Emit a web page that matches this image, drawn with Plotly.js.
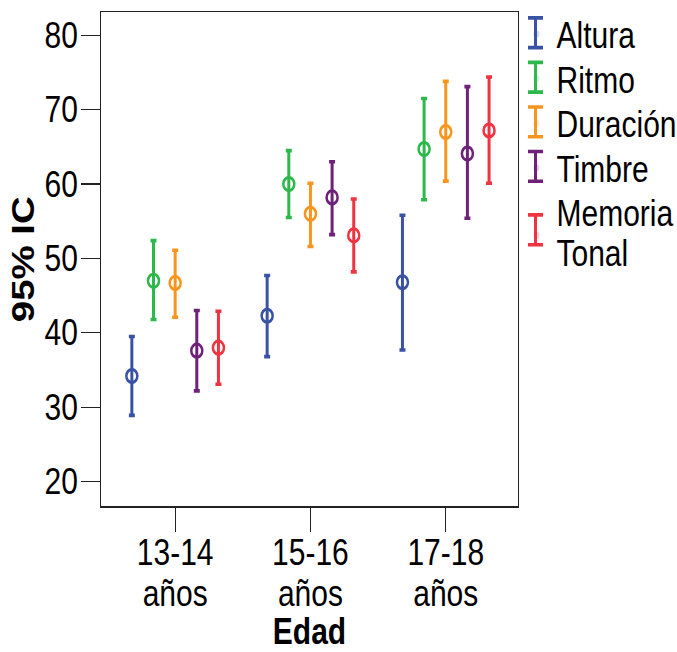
<!DOCTYPE html>
<html>
<head>
<meta charset="utf-8">
<script src="https://cdn.plot.ly/plotly-3.0.1.min.js"></script>
<style>
html,body{margin:0;padding:0;background:#fff;overflow:hidden;}
#wrap{width:677px;height:652px;overflow:hidden;}
#chart{width:677px;height:543px;transform:scaleY(1.2);transform-origin:0 0;}
</style>
</head>
<body>
<div id="wrap"><div id="chart"></div></div>
<script>
// ---- data ----
const categories = ['13-14<br>años', '15-16<br>años', '17-18<br>años'];
const seriesNames = ['Altura', 'Ritmo', 'Duración', 'Timbre', 'Memoria<br>Tonal'];
const yTickValues = [20, 30, 40, 50, 60, 70, 80];

const alturaMean = [34.2, 42.3, 46.8];
const alturaLow  = [28.9, 36.8, 37.7];
const alturaHigh = [39.5, 47.7, 55.8];

const ritmoMean = [47.0, 60.0, 64.7];
const ritmoLow  = [41.8, 55.5, 57.9];
const ritmoHigh = [52.4, 64.5, 71.5];

const duracionMean = [46.7, 56.0, 67.0];
const duracionLow  = [42.1, 51.6, 60.4];
const duracionHigh = [51.1, 60.1, 73.8];

const timbreMean = [37.6, 58.2, 64.1];
const timbreLow  = [32.2, 53.2, 55.4];
const timbreHigh = [43.0, 63.0, 73.1];

const memoriaMean = [38.0, 53.1, 67.2];
const memoriaLow  = [33.1, 48.2, 60.1];
const memoriaHigh = [42.9, 58.0, 74.4];

// ---- style ----
const colors = ['#3953a4', '#2db84b', '#f7951e', '#6e2178', '#ef3340'];
const FONT = 'Liberation Sans, Arial, sans-serif';
const FIG_H = 543;            // pre-stretch height (figure is stretched 1.2x vertically)
const M = {l: 101, r: 159, t: 10, b: 121, autoexpand: false};
const plotW = 677 - M.l - M.r;
const plotH = FIG_H - M.t - M.b;
const px2x = p => (p - M.l) / plotW;
const px2y = p => (FIG_H - M.b - p) / plotH;
const LINE_EM = 1.12;         // line spacing of two-line labels

const means = [alturaMean, ritmoMean, duracionMean, timbreMean, memoriaMean];
const lows  = [alturaLow, ritmoLow, duracionLow, timbreLow, memoriaLow];
const highs = [alturaHigh, ritmoHigh, duracionHigh, timbreHigh, memoriaHigh];

const traces = [];
seriesNames.forEach((name, i) => {
  traces.push({
    type: 'scatter', mode: 'markers', name: name, showlegend: false,
    x: categories, y: means[i],
    marker: {symbol: 'circle-open', size: 11, color: colors[i], line: {width: 2.5, color: colors[i]}},
    error_y: {
      type: 'data', symmetric: false,
      array: highs[i].map((h, k) => h - means[i][k]),
      arrayminus: lows[i].map((l, k) => means[i][k] - l),
      color: colors[i], thickness: 3, width: 3
    }
  });
});
// legend entries (keys drawn as I-beam shapes)
seriesNames.forEach((name, i) => {
  traces.push({
    type: 'scatter', mode: 'markers', name: name, showlegend: true,
    legend: i === 0 ? 'legend' : 'legend' + (i + 1),
    x: [null], y: [null], xaxis: 'x2', yaxis: 'y2',
    marker: {color: colors[i], opacity: 0}
  });
});

// legend key geometry (pre-stretch pixels)
const keyCenters = [27.3, 64.4, 101.6, 138.6, 191.5];
const keyHalf = 12.4, keyX = 535.5, keyCap = 7.5;
const shapes = keyCenters.map((c, i) => {
  const x0 = px2x(keyX - keyCap), x1 = px2x(keyX + keyCap), xc = px2x(keyX);
  const y0 = px2y(c - keyHalf), y1 = px2y(c + keyHalf);
  return {
    type: 'path', xref: 'paper', yref: 'paper',
    path: `M${x0},${y0} L${x1},${y0} M${xc},${y0} L${xc},${y1} M${x0},${y1} L${x1},${y1}`,
    line: {color: colors[i], width: 3}
  };
});

const legendBase = {
  x: px2x(516.5), xanchor: 'left', yanchor: 'middle',
  bgcolor: 'rgba(0,0,0,0)', borderwidth: 0,
  font: {family: FONT, size: 30, color: '#000'}
};
const textCenters = [28.5, 65.5, 102.7, 139.7, 196.0];
const layout = {
  width: 677, height: FIG_H,
  margin: M,
  paper_bgcolor: '#fff', plot_bgcolor: '#fff',
  font: {family: FONT, color: '#000'},
  scattermode: 'group', scattergap: 0.2,
  xaxis: {
    type: 'category', categoryorder: 'array', categoryarray: categories,
    range: [-0.548, 2.534],
    showline: true, mirror: true, linecolor: '#222', linewidth: 1,
    ticks: 'outside', ticklen: 20, tickwidth: 1, tickcolor: '#222',
    ticklabelstandoff: -8,
    tickfont: {family: FONT, size: 30, color: '#000'},
    showgrid: false, zeroline: false,
    title: {text: '<b>Edad</b>', font: {family: FONT, size: 30, color: '#000'}, standoff: 6}
  },
  yaxis: {
    range: [16.67, 83.13], tickvals: yTickValues,
    showline: true, mirror: true, linecolor: '#222', linewidth: 1,
    ticks: 'outside', ticklen: 19, tickwidth: 1, tickcolor: '#222',
    ticklabelstandoff: -3,
    tickfont: {family: FONT, size: 30, color: '#000'},
    showgrid: false, zeroline: false,
    title: {text: '<b>95% IC</b>', font: {family: FONT, size: 32, color: '#000'}, standoff: 0}
  },
  xaxis2: {overlaying: 'x', visible: false, range: [0, 1]},
  yaxis2: {overlaying: 'y', visible: false, range: [0, 1]},
  shapes: shapes,
  showlegend: true
};
seriesNames.forEach((n, i) => {
  const key = i === 0 ? 'legend' : 'legend' + (i + 1);
  layout[key] = Object.assign({}, legendBase, {y: px2y(textCenters[i])});
});

// tighter line spacing for the two-line labels, as in the reference
function tightenLines(gd) {
  gd.querySelectorAll('text').forEach(txt => {
    const lines = txt.querySelectorAll('tspan.line');
    if (lines.length < 2) return;
    lines.forEach((t, idx) => {
      const want = (idx * LINE_EM) + 'em';
      if (t.getAttribute('dy') !== want) t.setAttribute('dy', want);
    });
  });
}

const gdEl = document.getElementById('chart');
Plotly.newPlot(gdEl, traces, layout, {displayModeBar: false, staticPlot: true}).then(gd => {
  tightenLines(gd);
  gd.on('plotly_afterplot', () => tightenLines(gd));
  new MutationObserver(() => tightenLines(gd)).observe(gd, {childList: true, subtree: true});
  requestAnimationFrame(() => tightenLines(gd));
  setTimeout(() => tightenLines(gd), 0);
});
</script>
</body>
</html>
